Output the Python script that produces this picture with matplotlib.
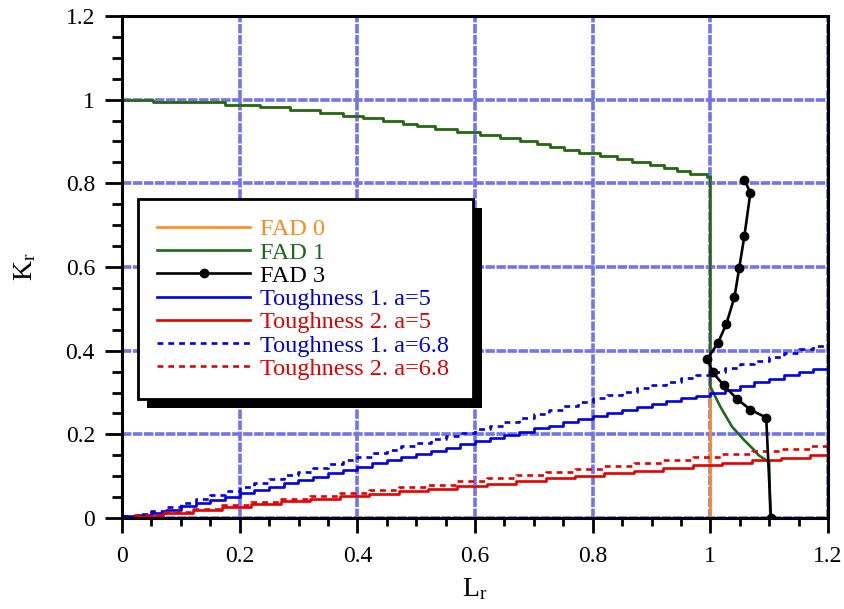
import matplotlib
matplotlib.use("Agg")
import matplotlib.pyplot as plt
from matplotlib.patches import Rectangle
from matplotlib.ticker import MultipleLocator

plt.rcParams['font.family'] = ['Liberation Serif', 'DejaVu Serif']
plt.rcParams['mathtext.fontset'] = 'stix'

# ---- data ----
# FAD 1: stepped plateau up to Lr = 1, then the collapse branch
fad1_x = [0.0, 0.053, 0.175, 0.235, 0.286, 0.337, 0.376, 0.41, 0.444, 0.478,
          0.501, 0.532, 0.569, 0.609, 0.643, 0.677, 0.705, 0.728, 0.751, 0.776,
          0.813, 0.842, 0.867, 0.898, 0.921, 0.944, 0.966, 0.994, 1.0]
fad1_y = [1.000, 0.995, 0.988, 0.982, 0.975, 0.968, 0.962, 0.955, 0.948, 0.941,
          0.936, 0.930, 0.922, 0.915, 0.908, 0.900, 0.893, 0.886, 0.880, 0.873,
          0.865, 0.858, 0.851, 0.844, 0.837, 0.830, 0.823, 0.816, 0.815]
fad1_tail_x = [1.0, 1.0, 1.017, 1.037, 1.057, 1.074, 1.082, 1.094, 1.100, 1.102]
fad1_tail_y = [0.815, 0.314, 0.266, 0.218, 0.187, 0.163, 0.150, 0.139, 0.132, 0.0]

# FAD 0: same plateau, cut off vertically at Lr = 1
fad0_x = fad1_x + [1.0]
fad0_y = fad1_y + [0.0]

# FAD 3 (with markers)
fad3_x = [1.058, 1.068, 1.058, 1.049, 1.041, 1.027, 1.013, 0.995, 1.004, 1.023,
          1.045, 1.068, 1.095, 1.103]
fad3_y = [0.809, 0.777, 0.675, 0.597, 0.528, 0.463, 0.419, 0.380, 0.348, 0.317,
          0.285, 0.259, 0.240, 0.0]

# Toughness 1 (blue), stepped every 0.025 in Lr
blue_x = [0.0, 0.025, 0.05, 0.075, 0.1, 0.125, 0.15, 0.175, 0.2, 0.225, 0.25,
          0.275, 0.3, 0.325, 0.35, 0.375, 0.4, 0.425, 0.45, 0.475, 0.5, 0.525,
          0.55, 0.575, 0.6, 0.625, 0.65, 0.675, 0.7, 0.725, 0.75, 0.775, 0.8,
          0.825, 0.85, 0.875, 0.9, 0.925, 0.95, 0.975, 1.0, 1.025, 1.05, 1.075,
          1.1, 1.125, 1.15, 1.175, 1.2]
tough1_a5 = [0.005, 0.008, 0.013, 0.020, 0.028, 0.036, 0.044, 0.051, 0.059,
             0.067, 0.075, 0.083, 0.091, 0.099, 0.107, 0.115, 0.123, 0.131,
             0.138, 0.146, 0.153, 0.161, 0.168, 0.176, 0.184, 0.191, 0.199,
             0.206, 0.214, 0.221, 0.229, 0.236, 0.244, 0.251, 0.258, 0.265,
             0.272, 0.279, 0.286, 0.292, 0.299, 0.307, 0.316, 0.324, 0.332,
             0.341, 0.349, 0.357, 0.366]
tough1_a68 = [0.005, 0.009, 0.016, 0.026, 0.036, 0.045, 0.055, 0.065, 0.075,
              0.084, 0.093, 0.102, 0.111, 0.120, 0.129, 0.138, 0.147, 0.155,
              0.163, 0.171, 0.180, 0.188, 0.196, 0.204, 0.212, 0.221, 0.230,
              0.240, 0.249, 0.258, 0.267, 0.277, 0.286, 0.294, 0.302, 0.310,
              0.318, 0.326, 0.334, 0.342, 0.350, 0.359, 0.368, 0.376, 0.385,
              0.394, 0.403, 0.411, 0.420]

# Toughness 2 (red), stepped every 0.05 in Lr
red_x = [0.02, 0.07, 0.12, 0.17, 0.22, 0.27, 0.32, 0.37, 0.42, 0.47, 0.52,
         0.57, 0.62, 0.67, 0.72, 0.77, 0.82, 0.87, 0.92, 0.97, 1.02, 1.07,
         1.12, 1.17, 1.2]
tough2_a5 = [0.005, 0.013, 0.020, 0.027, 0.033, 0.040, 0.046, 0.052, 0.058,
             0.064, 0.070, 0.076, 0.082, 0.088, 0.095, 0.101, 0.107, 0.113,
             0.120, 0.126, 0.132, 0.138, 0.144, 0.150, 0.155]
tough2_a68 = [0.006, 0.014, 0.022, 0.030, 0.038, 0.045, 0.052, 0.059, 0.066,
              0.073, 0.080, 0.088, 0.095, 0.102, 0.110, 0.117, 0.124, 0.131,
              0.138, 0.145, 0.152, 0.159, 0.166, 0.173, 0.180]

ORANGE = '#ff8c1a'
GREEN = '#1a6b1a'
BLUE = '#0000e6'
RED = '#e60000'
GRID = '#7373ee'

fig = plt.figure(figsize=(8.45, 6.09), dpi=100)
ax = fig.add_axes([122 / 845, 1 - 518 / 609, 706 / 845, 502 / 609])

lw = 1.9
dots = (0, (2.2, 1.9))
ax.plot(fad0_x, fad0_y, color=ORANGE, lw=lw, drawstyle='steps-post', label='FAD 0', zorder=3)
ax.plot(fad1_x, fad1_y, color=GREEN, lw=lw, drawstyle='steps-post', label='FAD 1', zorder=4)
ax.plot(fad1_tail_x, fad1_tail_y, color=GREEN, lw=lw, zorder=4)
ax.plot(fad3_x, fad3_y, color='black', lw=lw, marker='o', markersize=6,
        label='FAD 3', zorder=6)
ax.plot(blue_x, tough1_a5, color=BLUE, lw=lw, drawstyle='steps-post',
        label='Toughness 1. a=5', zorder=5)
ax.plot(red_x, tough2_a5, color=RED, lw=lw, drawstyle='steps-post',
        label='Toughness 2. a=5', zorder=5)
ax.plot(blue_x, tough1_a68, color=BLUE, lw=lw, ls=dots, drawstyle='steps-post',
        label='Toughness 1. a=6.8', zorder=5)
ax.plot(red_x, tough2_a68, color=RED, lw=lw, ls=dots, drawstyle='steps-post',
        label='Toughness 2. a=6.8', zorder=5)

ax.set_xlim(0, 1.2)
ax.set_ylim(0, 1.2)
ax.xaxis.set_major_locator(MultipleLocator(0.2))
ax.yaxis.set_major_locator(MultipleLocator(0.2))
ax.xaxis.set_minor_locator(MultipleLocator(0.05))
ax.yaxis.set_minor_locator(MultipleLocator(0.05))
fmt = lambda v, p: ('%g' % round(v, 2))
ax.xaxis.set_major_formatter(plt.FuncFormatter(fmt))
ax.yaxis.set_major_formatter(plt.FuncFormatter(fmt))

ax.grid(True, which='major', color=GRID, lw=2.6, ls=(0, (2.6, 0.45)), zorder=1)
ax.set_axisbelow(True)
for s in ax.spines.values():
    s.set_linewidth(2.2)
    s.set_zorder(7)

ax.tick_params(which='major', direction='out', length=10.5, width=2.0,
               labelsize=17, pad=10)
ax.tick_params(axis='x', which='minor', direction='out', length=5.5, width=2.0)
ax.tick_params(axis='y', which='minor', direction='out', length=7.5, width=2.0)
ax.tick_params(axis='y', which='major', length=12.5, pad=7)

ax.set_xlabel(r'L$_\mathregular{r}$', fontsize=20)
ax.set_ylabel(r'K$_\mathregular{r}$', fontsize=20)
ax.xaxis.set_label_coords(0.5, -0.117)
ax.yaxis.set_label_coords(-0.118, 0.5)

# legend box spans x 138..473 px, top at y 199 px in the reference
leg_box = (138 / 845, 1 - 395 / 609, (473 - 138) / 845, (395 - 199) / 609)
leg = ax.legend(loc='upper left', bbox_to_anchor=leg_box, mode='expand',
                bbox_transform=fig.transFigure, borderaxespad=0, fontsize=17.5,
                frameon=True, fancybox=False, framealpha=1, edgecolor='black',
                handlelength=3.8, handletextpad=0.4, labelspacing=0.05,
                borderpad=0.8, numpoints=1, labelcolor='linecolor')
leg.get_frame().set_linewidth(2.0)
leg.set_zorder(10)

# thick black drop shadow behind the legend box
fig.canvas.draw()
bb = leg.get_window_extent().transformed(fig.transFigure.inverted())
off_x, off_y = 9 / 845, 9 / 609
shadow = Rectangle((bb.x0 + off_x, bb.y0 - off_y), bb.width, bb.height,
                   transform=fig.transFigure, facecolor='black', edgecolor='none',
                   zorder=9)
ax.add_artist(shadow)
shadow.set_clip_on(False)

fig.savefig('out.png', dpi=100)
